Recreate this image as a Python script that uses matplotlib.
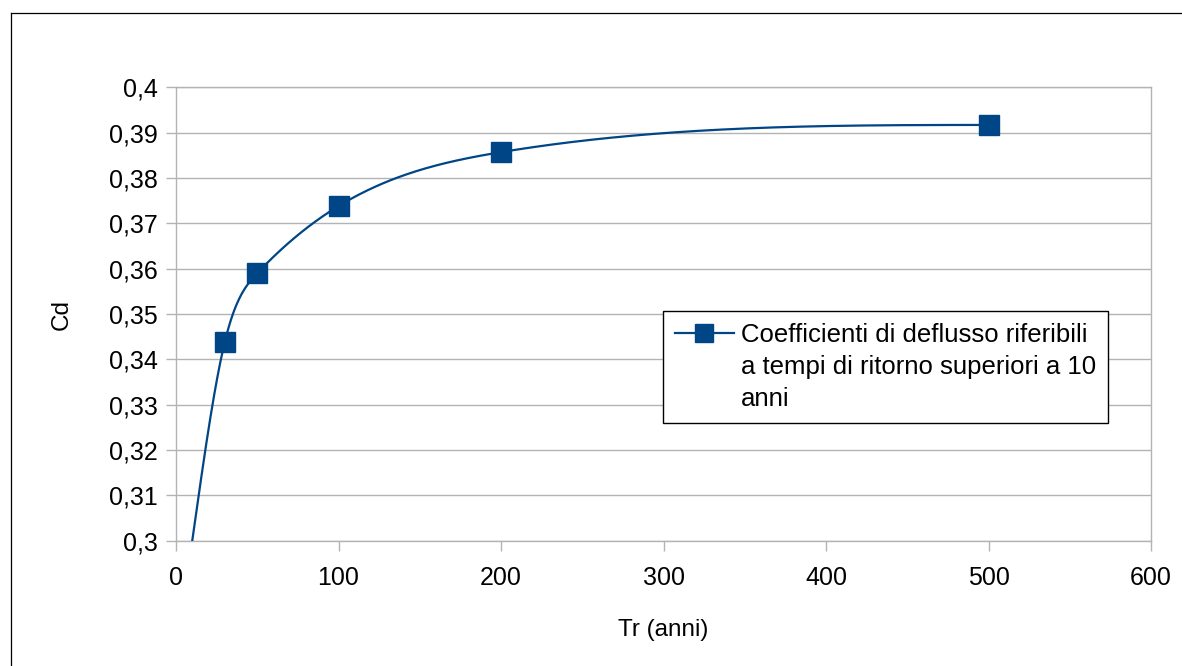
import numpy as np
import matplotlib.pyplot as plt
from matplotlib.lines import Line2D

plt.rcParams['font.family'] = ['Liberation Sans', 'DejaVu Sans']

# dati
tr = [10, 30, 50, 100, 200, 500]
cd = [0.300, 0.3438, 0.359, 0.3738, 0.3857, 0.3917]
yticks = [0.30, 0.31, 0.32, 0.33, 0.34, 0.35, 0.36, 0.37, 0.38, 0.39, 0.40]
xticks = [0, 100, 200, 300, 400, 500, 600]
label_lines = ['Coefficienti di deflusso riferibili',
               'a tempi di ritorno superiori a 10',
               'anni']

blu = '#004586'
grigio = '#b3b3b3'


def natural_spline(x, y, xs):
    # spline cubica naturale, come la linea "smussata" del foglio di calcolo
    x = np.asarray(x, float)
    y = np.asarray(y, float)
    n = len(x)
    h = np.diff(x)
    A = np.zeros((n, n))
    b = np.zeros(n)
    A[0, 0] = 1
    A[-1, -1] = 1
    for i in range(1, n - 1):
        A[i, i - 1] = h[i - 1]
        A[i, i] = 2 * (h[i - 1] + h[i])
        A[i, i + 1] = h[i]
        b[i] = 6 * ((y[i + 1] - y[i]) / h[i] - (y[i] - y[i - 1]) / h[i - 1])
    M = np.linalg.solve(A, b)
    out = np.empty_like(xs)
    for k, v in enumerate(xs):
        i = min(np.searchsorted(x, v, side='right') - 1, n - 2)
        i = max(i, 0)
        t1 = x[i + 1] - v
        t0 = v - x[i]
        out[k] = (M[i] * t1 ** 3 + M[i + 1] * t0 ** 3) / (6 * h[i]) \
            + (y[i] / h[i] - M[i] * h[i] / 6) * t1 \
            + (y[i + 1] / h[i] - M[i + 1] * h[i] / 6) * t0
    return out


fig = plt.figure(figsize=(11.82, 6.66), dpi=100)
ax = fig.add_axes([176 / 1182, 1 - 540.7 / 666, 975 / 1182, 453.4 / 666])

xs = np.linspace(tr[0], tr[-1], 800)
ax.plot(xs, natural_spline(tr, cd, xs), color=blu, lw=1.6, zorder=3)
ax.plot(tr, cd, ls='none', marker='s', ms=14, color=blu, markevery=[1, 2, 3, 4, 5], zorder=4)

ax.set_xlim(0, 600)
ax.set_ylim(0.3, 0.4)
ax.set_xticks(xticks)
ax.set_yticks(yticks)
ax.set_xticklabels([str(v) for v in xticks])
ax.set_yticklabels([('%g' % v).replace('.', ',') for v in yticks])
ax.tick_params(labelsize=18, color=grigio, length=7, width=1)
ax.tick_params(axis='x', pad=11)
ax.tick_params(axis='y', pad=6)
ax.grid(axis='y', color=grigio, lw=1)
ax.set_axisbelow(True)
for s in ax.spines.values():
    s.set_color(grigio)
    s.set_linewidth(1)

ax.set_xlabel('Tr (anni)', fontsize=17.5, labelpad=21)
ax.set_ylabel('Cd', fontsize=17.5, labelpad=26)

# legenda: simbolo sulla prima riga, testo su tre righe
handles = [Line2D([], [], color=blu, lw=1.6, marker='s', ms=12.5),
           Line2D([], [], color='none'),
           Line2D([], [], color='none')]
leg = ax.legend(handles, label_lines, loc='upper left',
                bbox_to_anchor=((663 - 176) / 975, 1 - (311 - 87.3) / 453.4),
                fontsize=18.5, frameon=True, fancybox=False, framealpha=1,
                edgecolor='black', handlelength=2.3, borderaxespad=0,
                borderpad=0.45, handletextpad=0.3, labelspacing=0.32)
leg.get_frame().set_linewidth(1)

# cornice esterna
fig.add_artist(Line2D([10.5 / 1182, 10.5 / 1182], [0, 1 - 13.3 / 666], color='black', lw=0.9))
fig.add_artist(Line2D([10.5 / 1182, 1], [1 - 13.3 / 666, 1 - 13.3 / 666], color='black', lw=0.9))

fig.savefig('out.png', dpi=100)
